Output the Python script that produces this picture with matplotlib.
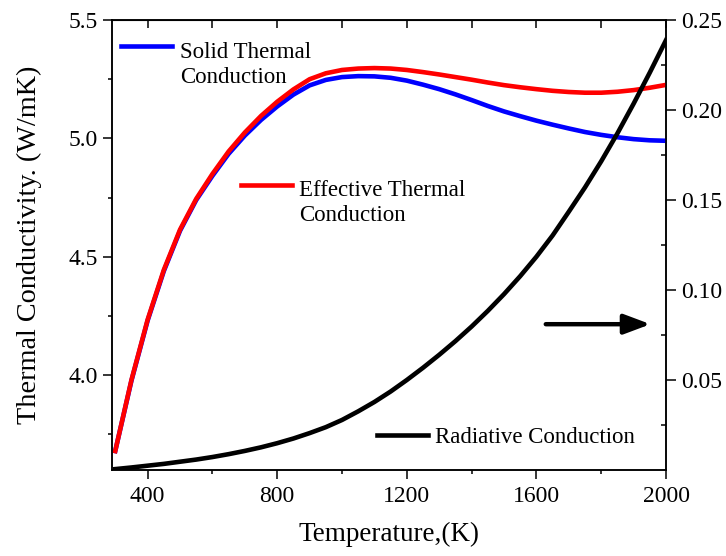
import matplotlib
matplotlib.use("Agg")
import matplotlib.pyplot as plt
from matplotlib.lines import Line2D

plt.rcParams['font.family'] = ['Liberation Serif', 'DejaVu Serif']

# temperature grid (K)
temp = [300, 350, 400, 450, 500, 550, 600, 650, 700, 750, 800, 850, 900, 950,
        1000, 1050, 1100, 1150, 1200, 1250, 1300, 1350, 1400, 1450, 1500,
        1550, 1600, 1650, 1700, 1750, 1800, 1850, 1900, 1950, 2000]

# solid thermal conduction (W/mK), left axis
k_solid = [3.68, 3.977, 4.231, 4.44, 4.61, 4.74, 4.842, 4.935, 5.012, 5.078,
           5.135, 5.185, 5.224, 5.247, 5.259, 5.263, 5.262, 5.256, 5.244, 5.227,
           5.208, 5.186, 5.162, 5.137, 5.114, 5.094, 5.075, 5.058, 5.042, 5.027,
           5.015, 5.005, 4.997, 4.992, 4.99]

# effective thermal conduction (W/mK), left axis
k_eff = [3.68, 3.98, 4.235, 4.445, 4.615, 4.745, 4.85, 4.945, 5.025, 5.095,
         5.155, 5.207, 5.25, 5.275, 5.289, 5.295, 5.297, 5.295, 5.289, 5.28,
         5.27, 5.259, 5.248, 5.236, 5.225, 5.216, 5.208, 5.201, 5.196, 5.193,
         5.193, 5.197, 5.204, 5.214, 5.226]

# radiative conduction (W/mK), right axis
k_rad = [0.0005, 0.0014, 0.0024, 0.0034, 0.0046, 0.0058, 0.0072, 0.0088, 0.0106,
         0.0126, 0.0149, 0.0175, 0.0205, 0.0238, 0.0278, 0.0326, 0.0378, 0.0436,
         0.050, 0.0568, 0.064, 0.0716, 0.0797, 0.0884, 0.0977, 0.1077, 0.1185,
         0.1303, 0.1435, 0.157, 0.1715, 0.187, 0.2035, 0.2208, 0.2388]

fig = plt.figure(figsize=(7.26, 5.56), dpi=100)
ax = fig.add_axes([112 / 726, 1 - 470 / 556, 554 / 726, 450 / 556])

lw = 3.3
ax.plot(temp, k_solid, color='#0000ff', lw=lw, zorder=3)
ax.plot(temp, k_eff, color='#ff0000', lw=lw, zorder=4)

ax.set_xlim(290, 2000)
ax.set_ylim(3.6, 5.5)
ax.set_xticks([400, 800, 1200, 1600, 2000])
ax.set_xticks([600, 1000, 1400, 1800], minor=True)
ax.set_yticks([4.0, 4.5, 5.0, 5.5])
ax.set_yticks([3.75, 4.25, 4.75, 5.25], minor=True)
ax.set_yticklabels(['4.0', '4.5', '5.0', '5.5'])
ax.tick_params(which='both', direction='out', labelsize=17, width=1.1, pad=4)
ax.tick_params(which='major', length=6.5)
ax.tick_params(which='minor', length=3)
ax.tick_params(axis='x', pad=5)
for s in ax.spines.values():
    s.set_linewidth(1.1)

ax.set_xlabel('Temperature,(K)', fontsize=19.5, labelpad=11)
ax.set_ylabel('Thermal Conductivity. (W/mK)', fontsize=20.3, labelpad=19)

# inward ticks on top edge
top = ax.secondary_xaxis('top')
top.set_xticks([400, 800, 1200, 1600, 2000])
top.set_xticks([600, 1000, 1400, 1800], minor=True)
top.set_xticklabels([])
top.tick_params(which='both', direction='in', length=6, width=1.1)

ax2 = ax.twinx()
ax2.plot(temp, k_rad, color='black', lw=lw, zorder=5)
ax2.set_ylim(0, 0.25)
ax2.set_yticks([0.05, 0.10, 0.15, 0.20, 0.25])
ax2.set_yticks([0.025, 0.075, 0.125, 0.175, 0.225], minor=True)
ax2.set_yticklabels(['0.05', '0.10', '0.15', '0.20', '0.25'])
ax2.tick_params(which='major', direction='out', length=7, width=1.1, labelsize=17, pad=4)
ax2.tick_params(which='minor', direction='in', length=3.5, width=1.1)
for s in ax2.spines.values():
    s.set_linewidth(1.1)

# hand-placed legend keys and labels (text y = baseline of last line)
keys = [
    ('#0000ff', 0.016, 0.108, 0.942, 0.123, 'Solid Thermal\nConduction', 0.861),
    ('#ff0000', 0.233, 0.325, 0.633, 0.337, 'Effective Thermal\nConduction', 0.553),
    ('black', 0.478, 0.571, 0.078, 0.583, 'Radiative Conduction', 0.061),
]
for col, x0, x1, yk, xt, label, yt in keys:
    ax.add_line(Line2D([x0, x1], [yk, yk], color=col, lw=lw,
                       transform=ax.transAxes, zorder=6))
    ax.text(xt, yt, label, transform=ax.transAxes, fontsize=16.5,
            va='baseline', ha='left', linespacing=1.25)

# arrow pointing to right axis
ax.annotate('', xy=(0.972, 0.324), xytext=(0.783, 0.324),
            xycoords='axes fraction',
            arrowprops=dict(arrowstyle='-|>,head_length=16,head_width=6',
                            mutation_scale=1, lw=3.2, color='black',
                            shrinkA=0, shrinkB=0))

fig.savefig('out.png', dpi=100)
